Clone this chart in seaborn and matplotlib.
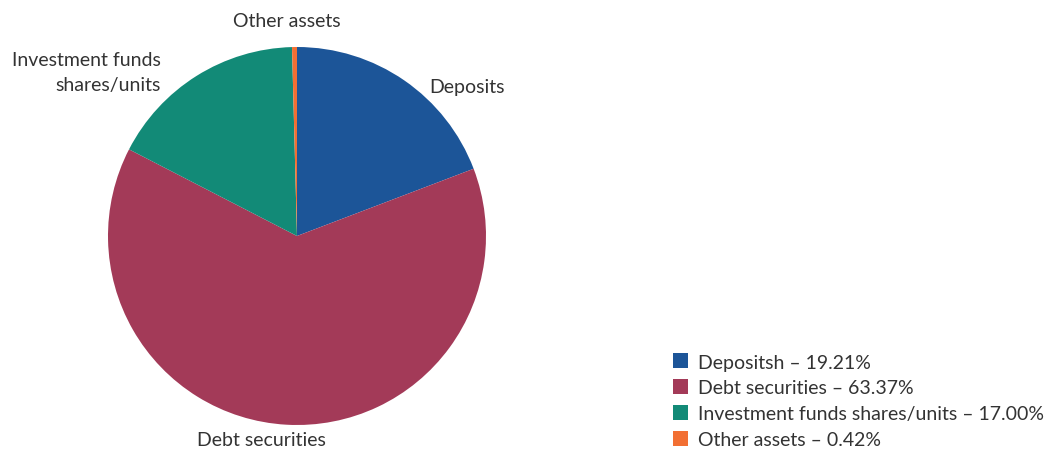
import matplotlib
matplotlib.use('Agg')
import matplotlib.pyplot as plt
from matplotlib.patches import Patch
import seaborn as sns
import numpy as np

# data
categories = ['Deposits', 'Debt securities', 'Investment funds\nshares/units', 'Other assets']
legend_names = ['Depositsh', 'Debt securities', 'Investment funds shares/units', 'Other assets']
shares = [19.21, 63.37, 17.00, 0.42]
colors = ['#1c5598', '#a33a58', '#128a77', '#f26f33']

sns.set_theme(style='white')
plt.rcParams['font.family'] = ['Lato', 'DejaVu Sans']
text_color = '#333333'
fs = 14

W, H = 1051, 452
cx, cy, r = 297, 237, 189  # pie centre / radius in pixels

fig = plt.figure(figsize=(W / 100, H / 100), dpi=100)
ax = fig.add_axes([0, 0, 1, 1])

wedges, texts = ax.pie(shares, labels=categories, colors=colors, startangle=90,
                       counterclock=False, labeldistance=1.1,
                       wedgeprops=dict(linewidth=0),
                       textprops=dict(fontsize=fs, color=text_color, linespacing=1.55))

# place labels beside the rim, highcharts style
for w, t in zip(wedges, texts):
    ang = np.deg2rad((w.theta1 + w.theta2) / 2)
    ex, ey = np.cos(ang), np.sin(ang)
    if abs(ex) < 0.2:
        t.set_ha('center')
        x = ex + 0.13 * np.sign(ex) * (1 if ey < 0 else 0.3)
        y = ey + (0.14 if ey > 0 else -0.08)
    else:
        t.set_ha('left' if ex > 0 else 'right')
        x = ex + (0.13 if ex > 0 else -0.19)
        y = ey - 0.03 if ex > 0 else ey + 0.02
    t.set_position((x, y))
    t.set_va('center')
    t.set_multialignment('right')

ax.set_xlim(-cx / r, (W - cx) / r)
ax.set_ylim(-(H - cy) / r, cy / r)
ax.set_aspect('equal')
ax.axis('off')

handles = [Patch(facecolor=c, edgecolor='none') for c in colors]
labels = [f'{n} – {v:.2f}%' for n, v in zip(legend_names, shares)]
leg = fig.legend(handles, labels, loc='lower left', bbox_to_anchor=(673 / W, 3 / H),
                 frameon=False, fontsize=fs, handlelength=0.78, handleheight=0.78,
                 handletextpad=0.5, labelspacing=0.45, borderaxespad=0, borderpad=0)
for t in leg.get_texts():
    t.set_color(text_color)

fig.savefig('out.png', dpi=100)
